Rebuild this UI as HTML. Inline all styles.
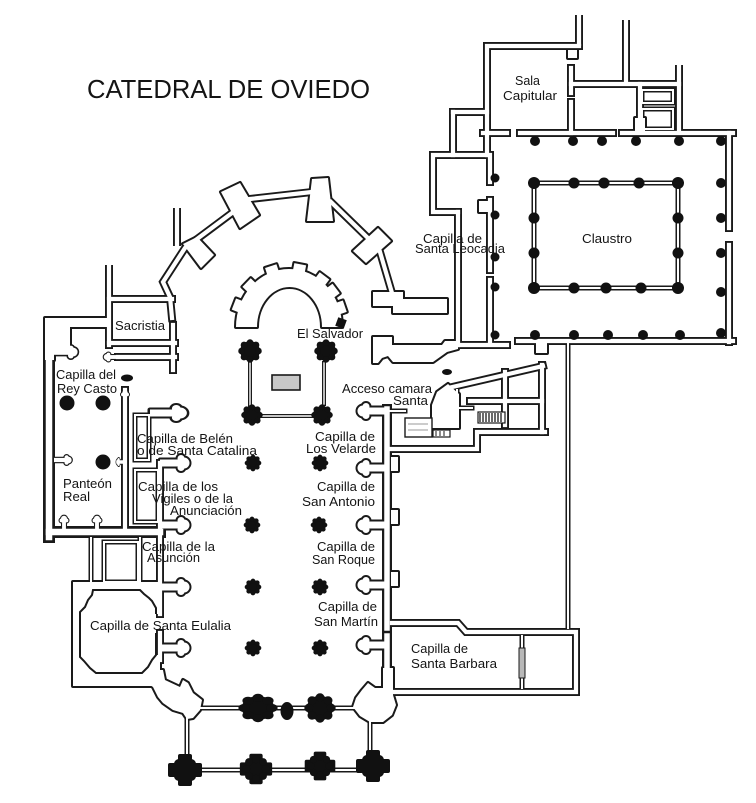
<!DOCTYPE html>
<html><head><meta charset="utf-8"><style>
html,body{margin:0;padding:0;background:#fff;}
svg{display:block}
text{font-family:"Liberation Sans","DejaVu Sans",sans-serif;fill:#141414;font-size:13px}
</style></head><body>
<svg width="756" height="803" viewBox="0 0 756 803" xmlns="http://www.w3.org/2000/svg">
<defs>
<g id="pr"><rect x="0" y="-3.5" width="22" height="7"/><circle cx="24" cy="0" r="5.5"/><circle cx="21" cy="-4.5" r="3.5"/><circle cx="21" cy="4.5" r="3.5"/></g>
<g id="ros"><circle r="8.2"/><circle cx="7" r="2.8"/><circle cx="-7" r="2.8"/><circle cy="7" r="2.8"/><circle cy="-7" r="2.8"/><circle cx="5" cy="5" r="2.8"/><circle cx="-5" cy="5" r="2.8"/><circle cx="5" cy="-5" r="2.8"/><circle cx="-5" cy="-5" r="2.8"/></g>
<g id="crs"><rect x="-17" y="-7" width="34" height="14" rx="2"/><rect x="-7" y="-16" width="14" height="32" rx="2"/><rect x="-11" y="-11" width="22" height="22" rx="5"/></g>

<g id="BL">
  <polygon points="221,192 240,183 259,215 240,228"/>
  <polygon points="312,179 328,178 333,221 307,221"/>
  <polygon points="353,251 378,228 391,241 366,263"/>
  <polygon points="183,244 197,237 214,255 201,268"/>
  <polygon points="373,292 403,292 403,299 447,299 447,313 393,313 393,306 373,306"/>
  <path d="M236,327 A53,58 0 0 1 342,327 L322,327 A32.5,40 0 0 0 257,327 Z"/>
  <rect x="-6" y="-6" width="12" height="12" transform="translate(239.5,306.2) rotate(-69)"/>
  <rect x="-6" y="-6" width="12" height="12" transform="translate(250.9,286.7) rotate(-46)"/>
  <rect x="-6" y="-6" width="12" height="12" transform="translate(272.6,271.8) rotate(-18)"/>
  <rect x="-6" y="-6" width="12" height="12" transform="translate(299.1,270.1) rotate(11)"/>
  <rect x="-6" y="-6" width="12" height="12" transform="translate(320.9,280.7) rotate(37)"/>
  <rect x="-6" y="-6" width="12" height="12" transform="translate(331.3,292.1) rotate(53)"/>
  <rect x="-6" y="-6" width="12" height="12" transform="translate(339.1,308.1) rotate(71)"/>
  <polygon points="373,337 392,337 392,345 442,345 445,341 458,341 458,349 447,352 440,357 433,362 393,362 388,356 382,358 378,363 373,363"/>
  <polygon points="437,392 448,384 459,394 459,428 432,428 432,405"/>
  <polygon points="73,582 160,582 160,614 150,614 150,655 160,655 160,686 73,686"/>
  <polygon points="150,670 163,670 165,680 180,687 183,680 188,683 193,693 202,700 200,710 193,718 187,719 183,713 173,710 163,703 158,697 153,687 150,685"/>
  <polygon points="353,707 356,698 362,690 368,683 375,688 383,688 383,668 393,668 393,695 396,705 392,715 383,722 370,722 360,716"/>
  <polygon points="45,318 107,318 107,327 70,327 70,350 54,350 54,360 45,360"/>
  <use href="#pr" transform="translate(150,413) scale(1.25,1)"/>
  <use href="#pr" transform="translate(160,463)"/>
  <use href="#pr" transform="translate(160,525)"/>
  <use href="#pr" transform="translate(160,587)"/>
  <use href="#pr" transform="translate(160,648)"/>
  <use href="#pr" transform="translate(387,411) scale(-1,1)"/>
  <use href="#pr" transform="translate(387,468) scale(-1,1)"/>
  <use href="#pr" transform="translate(387,525) scale(-1,1)"/>
  <use href="#pr" transform="translate(387,585) scale(-1,1)"/>
  <use href="#pr" transform="translate(387,645) scale(-1,1)"/>
  <use href="#pr" transform="translate(54,352) scale(0.8)"/>
  <use href="#pr" transform="translate(54,460) scale(0.6)"/>
  <use href="#pr" transform="translate(64,532) rotate(-90) scale(0.55)"/>
  <use href="#pr" transform="translate(97,532) rotate(-90) scale(0.55)"/>
  <use href="#pr" transform="translate(125,405) rotate(-90) scale(0.5)"/>
  <use href="#pr" transform="translate(125,462) scale(-0.3,0.5)"/>
  <use href="#pr" transform="translate(120,357) scale(-0.55)"/>
  <rect x="391" y="457" width="7" height="14"/>
  <rect x="391" y="510" width="7" height="14"/>
  <rect x="391" y="572" width="7" height="14"/>
  <rect x="479" y="201" width="12" height="11"/>
  <rect x="568" y="50" width="9" height="8"/>
  <rect x="635" y="118" width="10" height="14"/>
  <rect x="536" y="343" width="11" height="10"/>
</g>

<g id="W12">
  <path d="M49,352 L49,537"/>
  <path d="M49,532 L160,532"/>
</g>
<g id="W10">
  <path d="M387,409 L387,628"/>
  <path d="M387,636 L387,672"/>
</g>
<g id="W8">
  <path d="M232,213 L185,248 L163,282 L170,297 L172,318"/>
  <path d="M177,208 L177,246" stroke-linecap="butt"/>
  <path d="M250,199 L312,192"/>
  <path d="M331,202 L371,241"/>
  <path d="M380,252 L392,293"/>
  <path d="M109,265 L109,300" stroke-linecap="butt"/>
  <path d="M109,299 L109,345"/>
  <path d="M110,299 L172,299"/>
  <path d="M109,343 L175,343"/>
  <path d="M118,357 L175,357"/>
  <path d="M173,325 L173,370"/>
  <path d="M125,390 L125,532"/>
  <path d="M160,463 L160,614"/>
  <path d="M160,633 L160,660"/>
  <path d="M387,449 L477,449 L477,432 L545,432"/>
  <path d="M448,388 L543,366"/>
  <path d="M542,365 L542,432"/>
  <path d="M505,372 L505,425"/>
  <path d="M470,401 L542,401"/>
  <path d="M392,623 L458,623 L466,632 L576,632 L576,692 L392,692"/>
  <path d="M458,212 L458,345"/>
  <path d="M490,200 L490,270"/>
  <path d="M490,280 L490,342"/>
  <path d="M458,345 L507,345"/>
  <path d="M490,182 L490,155 L433,155 L433,212 L458,212"/>
  <path d="M579,15 L579,46" stroke-linecap="butt"/>
  <path d="M579,46 L487,46 L487,155"/>
  <path d="M453,112 L487,112"/>
  <path d="M453,112 L453,155"/>
  <path d="M483,133 L507,133"/>
  <path d="M520,133 L613,133"/>
  <path d="M622,133 L733,133"/>
  <path d="M729,133 L729,228"/>
  <path d="M729,245 L729,342"/>
  <path d="M518,341 L733,341"/>
  <path d="M571,68 L571,93"/>
  <path d="M571,102 L571,133"/>
  <path d="M571,84 L679,84"/>
  <path d="M626,20 L626,84" stroke-linecap="butt"/>
  <path d="M679,65 L679,133" stroke-linecap="butt"/>
  <path d="M640,84 L640,118"/>
</g>
<g id="W5">
  <path d="M135,415 L149,415 L149,460 L135,460 Z"/>
  <path d="M135,470 L158,470 L158,522 L135,522 Z"/>
  <path d="M104,542 L138,542 L138,582 L104,582 Z"/>
  <path d="M91,538 L91,582"/>
  <path d="M140,538 L140,582"/>
  <path d="M375,411 L405,411"/>
  <path d="M457,390 L457,408 L472,408"/>
  <path d="M522,636 L522,688"/>
  <path d="M568,342 L568,628"/>
  <path d="M642,90 L673,90 L673,103 L642,103 Z"/>
  <path d="M642,109 L673,109 L673,129 L642,129 Z"/>
  <path d="M534,183 L678,183 L678,288 L534,288 Z"/>
  <path d="M200,708 L355,708"/>
  <path d="M187,718 L187,760"/>
  <path d="M370,720 L370,755"/>
  <path d="M200,770 L357,770"/>
</g>
<g id="W4">
  <path d="M250,363 L250,405"/>
  <path d="M324,363 L324,404"/>
  <path d="M262,416 L313,416"/>
</g>
</defs>

<rect width="756" height="803" fill="#fff"/>

<g stroke-linejoin="miter" stroke-linecap="square">
<use href="#BL" fill="#1a1a1a" stroke="#1a1a1a" stroke-width="4" stroke-linejoin="round"/>
<use href="#W12" fill="none" stroke="#1a1a1a" stroke-width="12"/>
<use href="#W10" fill="none" stroke="#1a1a1a" stroke-width="10"/>
<use href="#W8" fill="none" stroke="#1a1a1a" stroke-width="8"/>
<use href="#W5" fill="none" stroke="#1a1a1a" stroke-width="5"/>
<use href="#W4" fill="none" stroke="#1a1a1a" stroke-width="4"/>
</g>
<g stroke-linejoin="miter" stroke-linecap="square">
<use href="#BL" fill="#fff" stroke="none"/>
<use href="#W12" fill="none" stroke="#fff" stroke-width="6.5"/>
<use href="#W10" fill="none" stroke="#fff" stroke-width="5.5"/>
<use href="#W8" fill="none" stroke="#fff" stroke-width="4.2"/>
<use href="#W5" fill="none" stroke="#fff" stroke-width="2"/>
<use href="#W4" fill="none" stroke="#fff" stroke-width="1.4"/>
</g>

<polygon points="93,590 140,590 144,594 149,598 152,601 156,608 156,655 152,660 148,667 142,673 96,673 90,668 84,661 80,657 80,612 85,607 88,600 92,595" fill="#fff"/>
<polyline points="156,614 156,608 152,601 149,598 144,594 140,590 93,590 92,595 88,600 85,607 80,612 80,657 84,661 90,668 96,673 142,673 148,667 152,660 156,655 156,633" fill="none" stroke="#1a1a1a" stroke-width="2"/>

<rect x="272" y="375" width="28" height="15" fill="#c8c8c8" stroke="#1a1a1a" stroke-width="1.6"/>
<rect x="519" y="648" width="6" height="30" fill="#b8b8b8" stroke="#1a1a1a" stroke-width="1"/>
<rect x="478" y="412" width="27" height="11" fill="#fff" stroke="#1a1a1a" stroke-width="1.2"/>
<path d="M480,413v9M483,413v9M486,413v9M489,413v9M492,413v9M495,413v9M498,413v9M501,413v9" stroke="#1a1a1a" stroke-width="1.3"/>
<rect x="405" y="418" width="27" height="19" fill="#fff" stroke="#1a1a1a" stroke-width="1.4"/>
<path d="M408,424h20M408,430h20" stroke="#999" stroke-width="1"/>
<rect x="433" y="430" width="17" height="7" fill="#fff" stroke="#1a1a1a" stroke-width="1.2"/>
<path d="M436,431v5M440,431v5M444,431v5" stroke="#1a1a1a" stroke-width="1"/>
<ellipse cx="127" cy="378" rx="6" ry="3.5" fill="#111"/>
<ellipse cx="447" cy="372" rx="5" ry="3" fill="#111"/>
<rect x="-4.5" y="-4.5" width="9" height="9" fill="#111" transform="translate(341,323) rotate(20)"/>

<g fill="#111">
  <use href="#ros" transform="translate(250,351) scale(1.2)"/>
  <use href="#ros" transform="translate(326,351) scale(1.2)"/>
  <use href="#ros" transform="translate(252,415) scale(1.1)"/>
  <use href="#ros" transform="translate(322,415) scale(1.1)"/>
  <use href="#ros" transform="translate(253,463) scale(0.85)"/>
  <use href="#ros" transform="translate(320,463) scale(0.85)"/>
  <use href="#ros" transform="translate(252,525) scale(0.85)"/>
  <use href="#ros" transform="translate(319,525) scale(0.85)"/>
  <use href="#ros" transform="translate(253,587) scale(0.85)"/>
  <use href="#ros" transform="translate(320,587) scale(0.85)"/>
  <use href="#ros" transform="translate(253,648) scale(0.85)"/>
  <use href="#ros" transform="translate(320,648) scale(0.85)"/>
  <use href="#ros" transform="translate(258,708) scale(2,1.45)"/>
  <use href="#ros" transform="translate(320,708) scale(1.6,1.5)"/>
  <ellipse cx="287" cy="711" rx="6.5" ry="9"/>
  <use href="#crs" transform="translate(185,770)"/>
  <use href="#crs" transform="translate(256,769) scale(0.95)"/>
  <use href="#ros" transform="translate(256,769) scale(1.4)"/>
  <use href="#crs" transform="translate(320,766) scale(0.9)"/>
  <use href="#ros" transform="translate(320,766) scale(1.3)"/>
  <use href="#crs" transform="translate(373,766)"/>
  <circle cx="67" cy="403" r="7.5"/>
  <circle cx="103" cy="403" r="7.5"/>
  <circle cx="103" cy="462" r="7.5"/>
  <circle cx="535" cy="141" r="5"/><circle cx="573" cy="141" r="5"/><circle cx="602" cy="141" r="5"/><circle cx="636" cy="141" r="5"/><circle cx="679" cy="141" r="5"/><circle cx="721" cy="141" r="5"/>
  <circle cx="721" cy="183" r="5"/><circle cx="721" cy="218" r="5"/><circle cx="721" cy="253" r="5"/><circle cx="721" cy="292" r="5"/><circle cx="721" cy="333" r="5"/>
  <circle cx="535" cy="335" r="5"/><circle cx="574" cy="335" r="5"/><circle cx="608" cy="335" r="5"/><circle cx="643" cy="335" r="5"/><circle cx="680" cy="335" r="5"/>
  <circle cx="495" cy="178" r="4.5"/><circle cx="495" cy="215" r="4.5"/><circle cx="495" cy="257" r="4.5"/><circle cx="495" cy="287" r="4.5"/><circle cx="495" cy="335" r="4.5"/>
  <circle cx="534" cy="183" r="6"/><circle cx="574" cy="183" r="5.5"/><circle cx="604" cy="183" r="5.5"/><circle cx="639" cy="183" r="5.5"/><circle cx="678" cy="183" r="6"/>
  <circle cx="534" cy="218" r="5.5"/><circle cx="534" cy="253" r="5.5"/><circle cx="678" cy="218" r="5.5"/><circle cx="678" cy="253" r="5.5"/>
  <circle cx="534" cy="288" r="6"/><circle cx="574" cy="288" r="5.5"/><circle cx="606" cy="288" r="5.5"/><circle cx="641" cy="288" r="5.5"/><circle cx="678" cy="288" r="6"/>
</g>

<text x="87" y="98" style="font-size:26px" textLength="283" lengthAdjust="spacingAndGlyphs">CATEDRAL DE OVIEDO</text>
<text x="515" y="85" textLength="25" lengthAdjust="spacingAndGlyphs">Sala</text>
<text x="503" y="100" textLength="54" lengthAdjust="spacingAndGlyphs">Capitular</text>
<text x="582" y="243" textLength="50" lengthAdjust="spacingAndGlyphs">Claustro</text>
<text x="423" y="243" textLength="59" lengthAdjust="spacingAndGlyphs">Capilla de</text>
<text x="415" y="253" textLength="90" lengthAdjust="spacingAndGlyphs">Santa Leocadia</text>
<text x="115" y="330" textLength="50" lengthAdjust="spacingAndGlyphs">Sacristia</text>
<text x="297" y="338" textLength="66" lengthAdjust="spacingAndGlyphs">El Salvador</text>
<text x="56" y="379" textLength="60" lengthAdjust="spacingAndGlyphs">Capilla del</text>
<text x="57" y="393" textLength="60" lengthAdjust="spacingAndGlyphs">Rey Casto</text>
<text x="342" y="393" textLength="90" lengthAdjust="spacingAndGlyphs">Acceso camara</text>
<text x="393" y="405" textLength="35" lengthAdjust="spacingAndGlyphs">Santa</text>
<text x="137" y="443" textLength="96" lengthAdjust="spacingAndGlyphs">Capilla de Belén</text>
<text x="137" y="455" textLength="120" lengthAdjust="spacingAndGlyphs">o de Santa Catalina</text>
<text x="315" y="441" textLength="60" lengthAdjust="spacingAndGlyphs">Capilla de</text>
<text x="306" y="453" textLength="70" lengthAdjust="spacingAndGlyphs">Los Velarde</text>
<text x="63" y="488" textLength="49" lengthAdjust="spacingAndGlyphs">Panteón</text>
<text x="63" y="501" textLength="27" lengthAdjust="spacingAndGlyphs">Real</text>
<text x="138" y="491" textLength="80" lengthAdjust="spacingAndGlyphs">Capilla de los</text>
<text x="152" y="503" textLength="81" lengthAdjust="spacingAndGlyphs">Vigiles o de la</text>
<text x="170" y="515" textLength="72" lengthAdjust="spacingAndGlyphs">Anunciación</text>
<text x="317" y="491" textLength="58" lengthAdjust="spacingAndGlyphs">Capilla de</text>
<text x="302" y="506" textLength="73" lengthAdjust="spacingAndGlyphs">San Antonio</text>
<text x="142" y="551" textLength="73" lengthAdjust="spacingAndGlyphs">Capilla de la</text>
<text x="147" y="562" textLength="53" lengthAdjust="spacingAndGlyphs">Asunción</text>
<text x="317" y="551" textLength="58" lengthAdjust="spacingAndGlyphs">Capilla de</text>
<text x="312" y="564" textLength="63" lengthAdjust="spacingAndGlyphs">San Roque</text>
<text x="318" y="611" textLength="59" lengthAdjust="spacingAndGlyphs">Capilla de</text>
<text x="314" y="626" textLength="64" lengthAdjust="spacingAndGlyphs">San Martín</text>
<text x="90" y="630" textLength="141" lengthAdjust="spacingAndGlyphs">Capilla de Santa Eulalia</text>
<text x="411" y="653" textLength="57" lengthAdjust="spacingAndGlyphs">Capilla de</text>
<text x="411" y="668" textLength="86" lengthAdjust="spacingAndGlyphs">Santa Barbara</text>
</svg>
</body></html>
